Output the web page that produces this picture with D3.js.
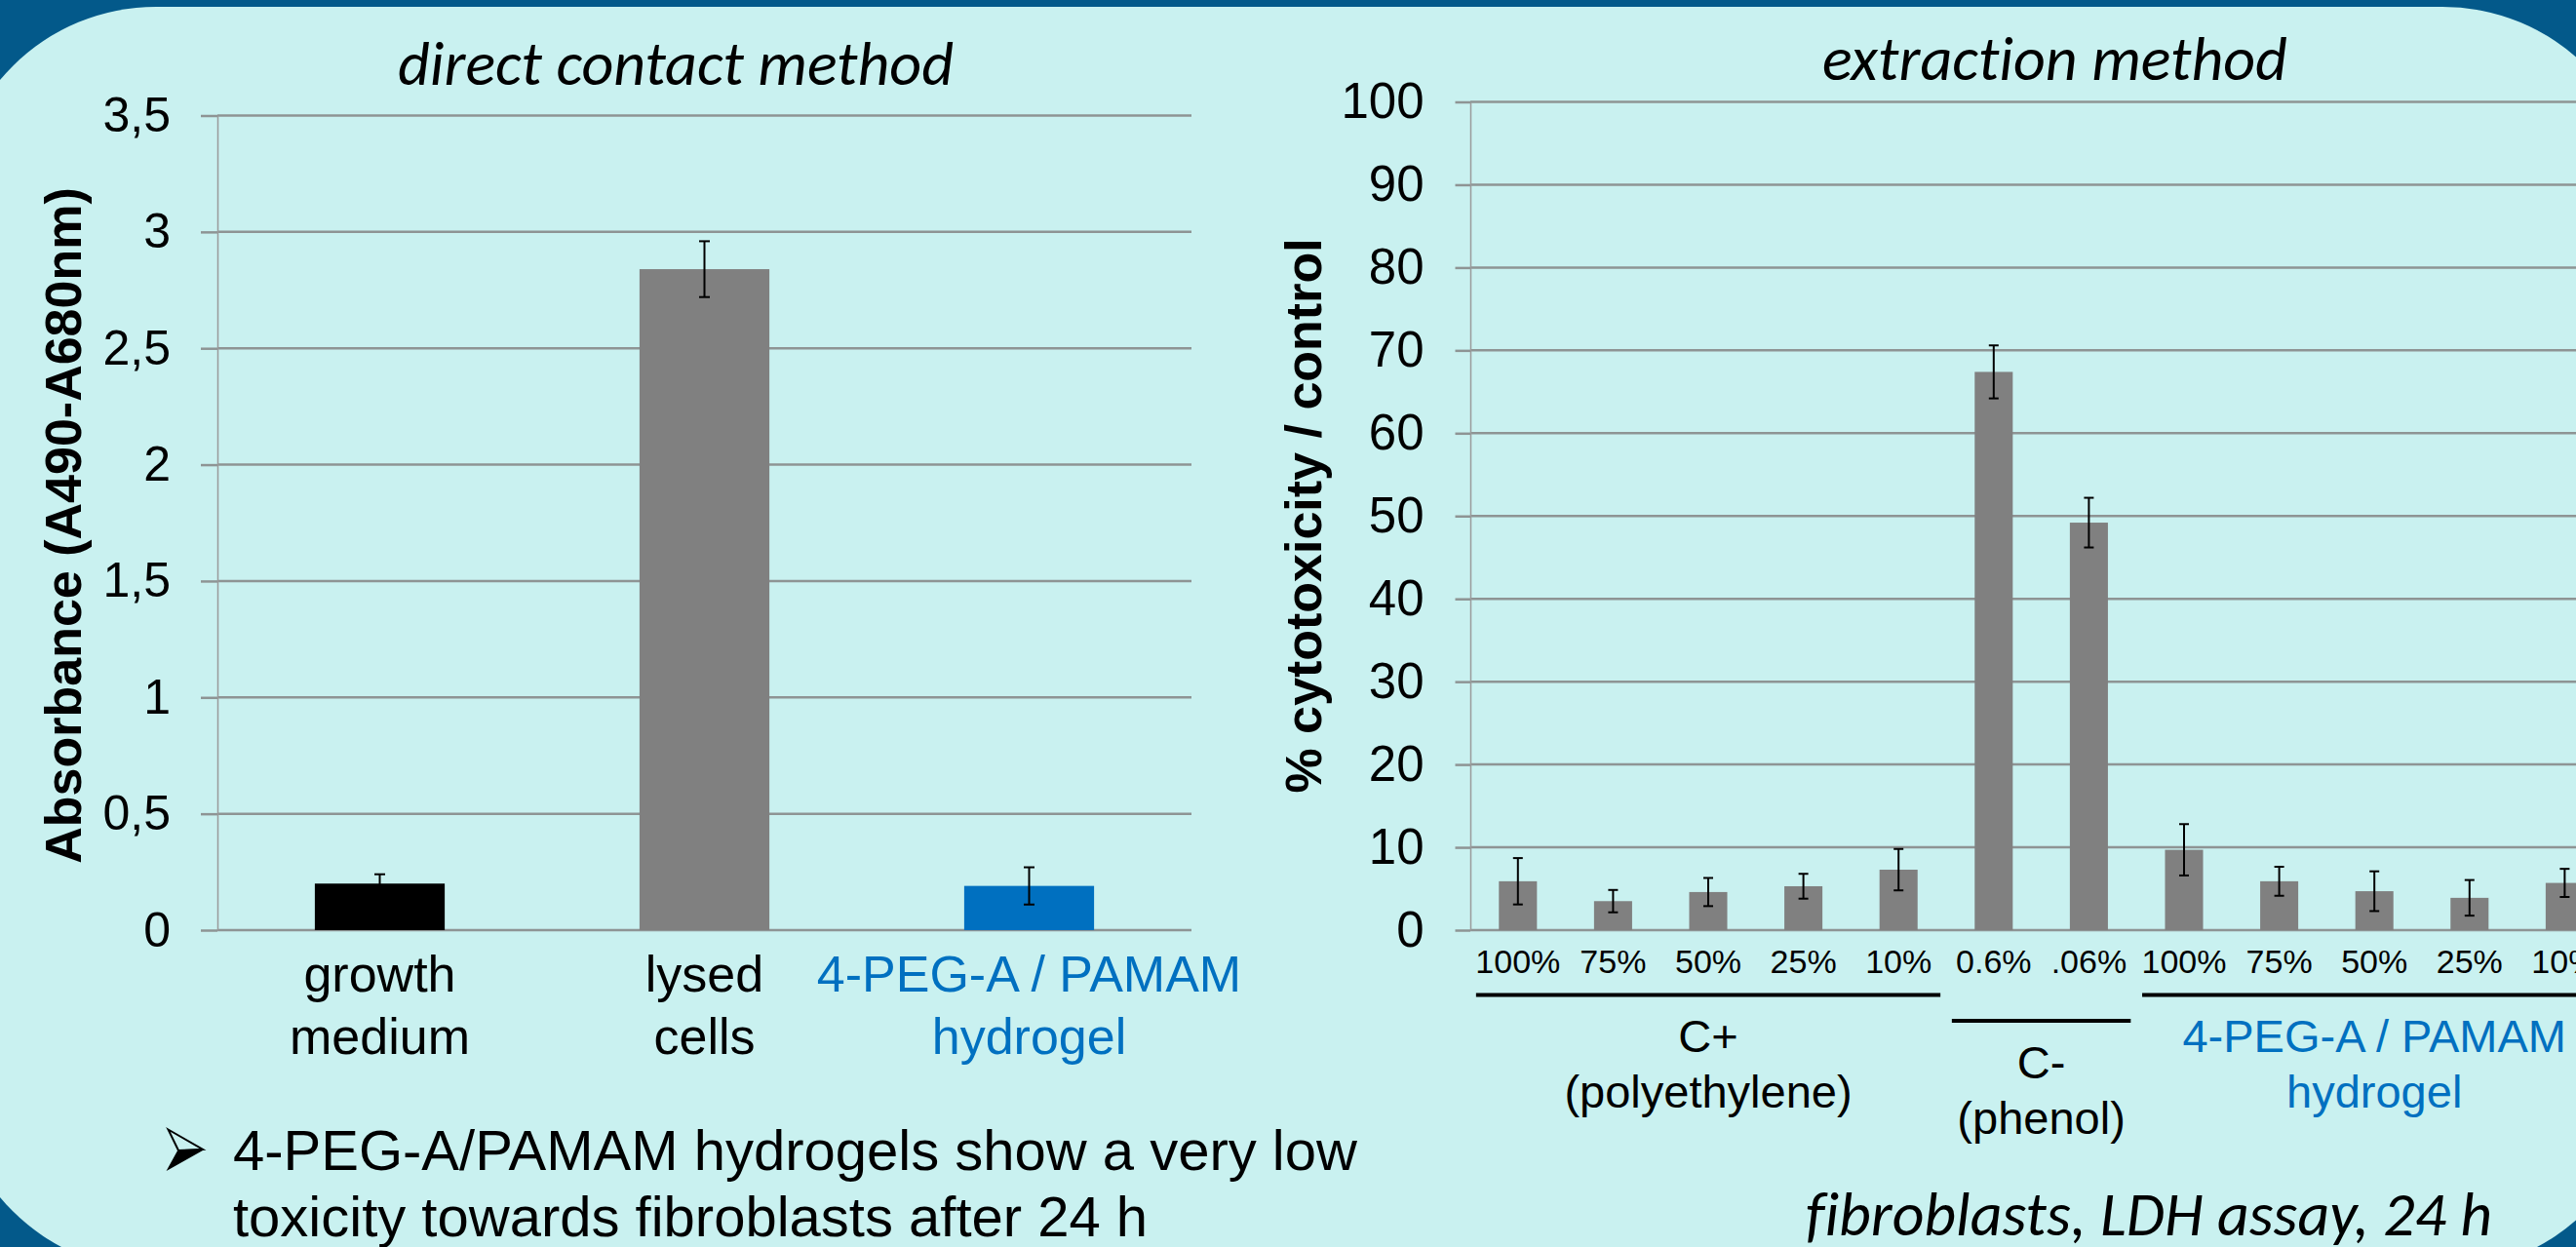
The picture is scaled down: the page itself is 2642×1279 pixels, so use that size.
<!DOCTYPE html>
<html>
<head>
<meta charset="utf-8">
<script src="https://cdn.jsdelivr.net/npm/d3@7"></script>
<style>
  html, body { margin: 0; padding: 0; background: #03598A; overflow: hidden; }
  svg { display: block; }
  text { font-variant-ligatures: none; }
</style>
</head>
<body>
<svg id="chart" width="2642" height="1279"></svg>
<script>
// ---------- data ----------
const leftCategories = [["growth", "medium"], ["lysed", "cells"], ["4-PEG-A / PAMAM", "hydrogel"]];
const leftValues = [0.20, 2.84, 0.19];
const leftErrors = [0.04, 0.12, 0.08];
const leftTicks = [0, 0.5, 1, 1.5, 2, 2.5, 3, 3.5];

const rightCategories = ["100%", "75%", "50%", "25%", "10%", "0.6%", ".06%", "100%", "75%", "50%", "25%", "10%"];
const rightValues = [5.9, 3.5, 4.6, 5.3, 7.3, 67.4, 49.2, 9.7, 5.9, 4.7, 3.9, 5.7];
const rightErrors = [2.8, 1.35, 1.7, 1.5, 2.5, 3.2, 3.0, 3.1, 1.75, 2.4, 2.15, 1.7];
const rightTicks = [0, 10, 20, 30, 40, 50, 60, 70, 80, 90, 100];

const groupLabels = [["C+", "(polyethylene)"], ["C-", "(phenol)"], ["4-PEG-A / PAMAM", "hydrogel"]];
const groupFirst = [0, 5, 7];
const groupLast = [4, 6, 11];

// ---------- styles ----------
const ARIAL = "'Liberation Sans', Arial, sans-serif";
const CALIBRI = "Carlito, Calibri, Lato, 'Open Sans', sans-serif";
const BLUE = "#0070C0";
const GRAY = "#808080";
const GRID = "#8E9494";
const LIGHT = "#C9F1F0";
const DARK = "#03598A";

const svg = d3.select("#chart");

// background
svg.append("rect").attr("x", 0).attr("y", 0).attr("width", 2642).attr("height", 1279).attr("fill", DARK);
svg.append("rect").attr("x", -48).attr("y", 7).attr("width", 2761).attr("height", 1296)
  .attr("rx", 208).attr("ry", 208).attr("fill", LIGHT);

// ---------- LEFT CHART ----------
const L = { x0: 223, x1: 1222, yTop: 118.5, yBot: 954 };
const xL = d3.scaleBand().domain(d3.range(leftValues.length)).range([L.x0, L.x1])
  .paddingInner(0.6).paddingOuter(0.3);
const yL = d3.scaleLinear().domain([0, 3.5]).range([L.yBot, L.yTop]);

const gL = svg.append("g");
gL.selectAll("line.grid").data(leftTicks).join("line")
  .attr("x1", L.x0).attr("x2", L.x1)
  .attr("y1", d => yL(d)).attr("y2", d => yL(d))
  .attr("stroke", GRID).attr("stroke-width", 2.5);

const fmtComma = d => String(d).replace(".", ",");
const axL = gL.append("g").attr("transform", `translate(${L.x0},0)`)
  .call(d3.axisLeft(yL).tickValues(leftTicks).tickFormat(fmtComma).tickSize(17).tickSizeOuter(0).tickPadding(31));
axL.select(".domain").attr("stroke", "#9A9A9A").attr("stroke-width", 1.5);
axL.selectAll(".tick line").attr("stroke", GRID).attr("stroke-width", 2.5);
axL.selectAll(".tick text").attr("font-family", ARIAL).attr("font-size", 50).attr("fill", "#000");

const leftColors = ["#000000", GRAY, BLUE];
gL.selectAll("rect.bar").data(leftValues).join("rect")
  .attr("x", (d, i) => xL(i)).attr("width", xL.bandwidth())
  .attr("y", d => yL(d)).attr("height", d => yL(0) - yL(d))
  .attr("fill", (d, i) => leftColors[i]);

function errorBars(g, values, errors, x, y, cap) {
  values.forEach((v, i) => {
    const cx = x(i) + x.bandwidth() / 2;
    const lo = y(Math.max(0, v - errors[i])), hi = y(v + errors[i]);
    g.append("line").attr("x1", cx).attr("x2", cx).attr("y1", lo).attr("y2", hi)
      .attr("stroke", "#000").attr("stroke-width", 2);
    [lo, hi].forEach(yy => g.append("line").attr("x1", cx - cap / 2).attr("x2", cx + cap / 2)
      .attr("y1", yy).attr("y2", yy).attr("stroke", "#000").attr("stroke-width", 2));
  });
}
errorBars(gL, leftValues, leftErrors, xL, yL, 11);

leftCategories.forEach((lines, i) => {
  const cx = xL(i) + xL.bandwidth() / 2;
  const t = gL.append("text").attr("text-anchor", "middle")
    .attr("font-family", ARIAL).attr("font-size", 52)
    .attr("fill", i === 2 ? BLUE : "#000");
  lines.forEach((ln, k) => t.append("tspan").attr("x", cx).attr("y", 1017 + k * 63.5).text(ln));
});

svg.append("text").attr("transform", "translate(83,539) rotate(-90)")
  .attr("text-anchor", "middle").attr("font-family", ARIAL).attr("font-weight", "bold")
  .attr("font-size", 52).attr("fill", "#000").text("Absorbance (A490-A680nm)");

svg.append("text").attr("x", 408).attr("y", 86.5)
  .attr("font-family", CALIBRI).attr("font-style", "italic").attr("font-size", 63)
  .attr("textLength", 570).attr("lengthAdjust", "spacingAndGlyphs")
  .attr("fill", "#000").text("direct contact method");

// ---------- RIGHT CHART ----------
const R = { x0: 1508, step: 97.6, yTop: 104.5, yBot: 954 };
const xR = d3.scaleBand().domain(d3.range(rightValues.length))
  .range([R.x0, R.x0 + R.step * rightValues.length]).paddingInner(0.6).paddingOuter(0.3);
const yR = d3.scaleLinear().domain([0, 100]).range([R.yBot, R.yTop]);

const gR = svg.append("g");
gR.selectAll("line.grid").data(rightTicks).join("line")
  .attr("x1", R.x0).attr("x2", 2720)
  .attr("y1", d => yR(d)).attr("y2", d => yR(d))
  .attr("stroke", GRID).attr("stroke-width", 2.5);

const axR = gR.append("g").attr("transform", `translate(${R.x0},0)`)
  .call(d3.axisLeft(yR).tickValues(rightTicks).tickSize(15.5).tickSizeOuter(0).tickPadding(32));
axR.select(".domain").attr("stroke", "#9A9A9A").attr("stroke-width", 1.5);
axR.selectAll(".tick line").attr("stroke", GRID).attr("stroke-width", 2.5);
axR.selectAll(".tick text").attr("font-family", ARIAL).attr("font-size", 51).attr("fill", "#000");

gR.selectAll("rect.bar").data(rightValues).join("rect")
  .attr("x", (d, i) => xR(i)).attr("width", xR.bandwidth())
  .attr("y", d => yR(d)).attr("height", d => yR(0) - yR(d))
  .attr("fill", GRAY);
errorBars(gR, rightValues, rightErrors, xR, yR, 10);

gR.selectAll("text.xl").data(rightCategories).join("text")
  .attr("x", (d, i) => xR(i) + xR.bandwidth() / 2).attr("y", 998)
  .attr("text-anchor", "middle").attr("font-family", ARIAL).attr("font-size", 34)
  .attr("fill", "#000").text(d => d);

const ctr = i => xR(i) + xR.bandwidth() / 2;
groupLabels.forEach((lines, g) => {
  const off = g === 1 ? 26.5 : 0;
  gR.append("line")
    .attr("x1", ctr(groupFirst[g]) - R.step * 0.44).attr("x2", ctr(groupLast[g]) + R.step * 0.44)
    .attr("y1", 1020.5 + off).attr("y2", 1020.5 + off)
    .attr("stroke", "#000").attr("stroke-width", 4);
  const cx = (ctr(groupFirst[g]) + ctr(groupLast[g])) / 2;
  const t = gR.append("text").attr("text-anchor", "middle")
    .attr("font-family", ARIAL).attr("font-size", 47)
    .attr("fill", g === 2 ? BLUE : "#000");
  lines.forEach((ln, k) => t.append("tspan").attr("x", cx).attr("y", 1079 + off + k * 57).text(ln));
});

svg.append("text").attr("transform", "translate(1355,529) rotate(-90)")
  .attr("text-anchor", "middle").attr("font-family", ARIAL).attr("font-weight", "bold")
  .attr("font-size", 52).attr("fill", "#000").text("% cytotoxicity / control");

svg.append("text").attr("x", 1869).attr("y", 82)
  .attr("font-family", CALIBRI).attr("font-style", "italic").attr("font-size", 63)
  .attr("textLength", 477).attr("lengthAdjust", "spacingAndGlyphs")
  .attr("fill", "#000").text("extraction method");

// ---------- notes ----------
svg.append("path").attr("d", "M172.5,1158.5 L208,1179 L183,1180 Z")
  .attr("fill", LIGHT).attr("stroke", "#000").attr("stroke-width", 2).attr("stroke-linejoin", "miter");
svg.append("path").attr("d", "M172.5,1199 L208,1179 L183,1180 Z").attr("fill", "#000")
  .attr("stroke", "#000").attr("stroke-width", 1.5);

const note = svg.append("text").attr("font-family", ARIAL).attr("font-size", 58).attr("fill", "#000");
note.append("tspan").attr("x", 239).attr("y", 1200).text("4-PEG-A/PAMAM hydrogels show a very low");
note.append("tspan").attr("x", 239).attr("y", 1268).text("toxicity towards fibroblasts after 24 h");

svg.append("text").attr("x", 1852).attr("y", 1267)
  .attr("font-family", CALIBRI).attr("font-style", "italic").attr("font-size", 63)
  .attr("textLength", 704).attr("lengthAdjust", "spacingAndGlyphs")
  .attr("fill", "#000").text("fibroblasts, LDH assay, 24 h");
</script>
</body>
</html>
